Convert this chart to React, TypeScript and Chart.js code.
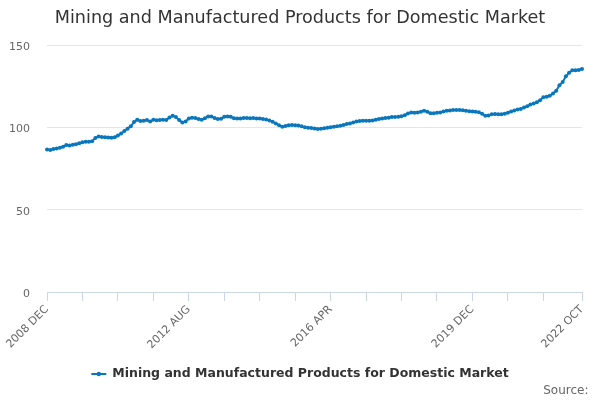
import React, { useEffect, useRef } from "react";
import { Chart, registerables } from "chart.js";

Chart.register(...registerables);

const TITLE = "Mining and Manufactured Products for Domestic Market";
const SERIES_NAME = "Mining and Manufactured Products for Domestic Market";
const SOURCE = "Source:";

const MONTHS = ["JAN", "FEB", "MAR", "APR", "MAY", "JUN", "JUL", "AUG", "SEP", "OCT", "NOV", "DEC"];
const START_YEAR = 2008;
const START_MONTH = 11; // DEC

const VALUES: number[] = [
  86.5, 86.3, 86.8, 87.2, 87.6, 88.2, 89.2, 88.9, 89.4, 89.8,
  90.4, 90.9, 91.2, 91.3, 91.6, 93.5, 94.5, 94.2, 94.0, 93.8,
  93.6, 94.0, 95.0, 96.2, 97.8, 99.2, 100.6, 103.2, 104.6, 103.9,
  104.0, 104.4, 103.6, 104.6, 104.3, 104.5, 104.6, 104.4, 106.0, 107.0,
  106.2, 104.5, 103.0, 103.6, 105.4, 105.8, 105.6, 105.0, 104.6, 105.5,
  106.6, 106.6, 105.6, 105.1, 105.2, 106.4, 106.6, 106.4, 105.5, 105.3,
  105.4, 105.6, 105.6, 105.5, 105.6, 105.4, 105.3, 105.0, 104.8, 104.1,
  103.4, 102.4, 101.2, 100.4, 100.8, 101.2, 101.4, 101.3, 101.1, 100.6,
  100.0, 99.8, 99.6, 99.3, 99.0, 99.2, 99.5, 99.8, 100.0, 100.3,
  100.6, 101.0, 101.4, 102.0, 102.4, 103.0, 103.6, 103.8, 104.0, 104.0,
  104.0, 104.2, 104.6, 105.0, 105.3, 105.6, 105.8, 106.2, 106.2, 106.4,
  106.8, 107.4, 108.4, 109.0, 108.8, 109.0, 109.4, 110.0, 109.4, 108.6,
  108.6, 108.8, 109.0, 109.6, 110.0, 110.2, 110.6, 110.6, 110.6, 110.4,
  110.0, 109.8, 109.6, 109.5, 109.2, 108.2, 107.0, 107.2, 108.0, 108.1,
  108.0, 108.0, 108.3, 108.8, 109.6, 110.2, 110.8, 111.2, 112.0, 112.8,
  113.8, 114.5, 115.2, 116.5, 118.2, 118.6, 119.2, 120.5, 122.2, 125.5,
  127.5, 131.0, 133.2, 134.6, 134.6, 134.8, 135.4,
];

const CATEGORIES: string[] = VALUES.map((_, i) => {
  const m = START_MONTH + i;
  return `${START_YEAR + Math.floor(m / 12)} ${MONTHS[m % 12]}`;
});

const Y_TICKS = [0, 50, 100, 150];
const TICK_EVERY = 11;
const LABEL_EVERY = 44;

const COLOR = "#0a77bd";
const FONT = "'DejaVu Sans', Verdana, sans-serif";

export default function App() {
  const ref = useRef<HTMLCanvasElement | null>(null);

  useEffect(() => {
    if (!ref.current) return;
    const last = VALUES.length - 1;
    const overlay = {
      id: "overlay",
      afterDraw(chart: any) {
        const ctx = chart.ctx as CanvasRenderingContext2D;
        ctx.save();
        ctx.fillStyle = "#333333";
        ctx.font = `17.6px ${FONT}`;
        ctx.textAlign = "center";
        ctx.textBaseline = "middle";
        ctx.fillText(TITLE, 300, 18);

        // legend
        ctx.font = `bold 12.5px ${FONT}`;
        const tw = ctx.measureText(SERIES_NAME).width;
        const symW = 15;
        const gap = 6;
        const total = symW + gap + tw;
        const x0 = 300 - total / 2;
        const ly = 374;
        ctx.strokeStyle = COLOR;
        ctx.lineWidth = 2;
        ctx.beginPath();
        ctx.moveTo(x0, ly);
        ctx.lineTo(x0 + symW, ly);
        ctx.stroke();
        ctx.fillStyle = COLOR;
        ctx.beginPath();
        ctx.arc(x0 + symW / 2, ly, 2.2, 0, Math.PI * 2);
        ctx.fill();
        ctx.fillStyle = "#333333";
        ctx.textAlign = "left";
        ctx.fillText(SERIES_NAME, x0 + symW + gap, ly);

        // source
        ctx.font = `12px ${FONT}`;
        ctx.fillStyle = "#666666";
        ctx.textAlign = "right";
        ctx.fillText(SOURCE, 588.5, 391);
        ctx.restore();
      },
    };

    const chart = new Chart(ref.current, {
      type: "line",
      data: {
        labels: CATEGORIES,
        datasets: [
          {
            label: SERIES_NAME,
            data: VALUES,
            borderColor: COLOR,
            backgroundColor: COLOR,
            borderWidth: 2,
            pointRadius: 2,
            pointBorderWidth: 0,
            pointBackgroundColor: COLOR,
            tension: 0,
          },
        ],
      },
      options: {
        animation: false,
        responsive: false,
        layout: { padding: { left: 0, right: 18, top: 45, bottom: 0 } },
        plugins: {
          legend: { display: false },
          title: { display: false },
          tooltip: { enabled: false },
        },
        scales: {
          x: {
            type: "category",
            offset: false,
            afterBuildTicks(axis: any) {
              axis.ticks = axis.ticks.filter(
                (t: any) => (t.value % TICK_EVERY === 0 && t.value < last - 6) || t.value === last
              );
            },
            afterFit(scale: any) {
              scale.height = 108;
            },
            grid: {
              display: true,
              drawOnChartArea: false,
              drawTicks: true,
              tickLength: 9,
              color: "#ccd6eb",
              tickColor: "#ccd6eb",
            },
            border: { display: true, color: "#ccd6eb", width: 1 },
            ticks: {
              autoSkip: false,
              maxRotation: 45,
              minRotation: 45,
              padding: 2,
              color: "#666666",
              font: { family: FONT, size: 11 },
              callback(this: any, value: any) {
                const v = Number(value);
                if (v % LABEL_EVERY === 0 || v === last) return CATEGORIES[v];
                return "";
              },
            },
          },
          y: {
            min: 0,
            max: 150,
            afterBuildTicks(axis: any) {
              axis.ticks = Y_TICKS.map((v) => ({ value: v }));
            },
            afterFit(scale: any) {
              scale.width = 47;
            },
            grid: { color: "#e6e6e6", drawTicks: false },
            border: { display: false },
            ticks: {
              padding: 17,
              labelOffset: 2,
              color: "#666666",
              font: { family: FONT, size: 11 },
            },
          },
        },
      },
      plugins: [overlay],
    });
    return () => chart.destroy();
  }, []);

  return (
    <div style={{ position: "fixed", left: 0, top: 0, width: 600, height: 400, background: "#fff" }}>
      <canvas ref={ref} width={600} height={400} />
    </div>
  );
}
